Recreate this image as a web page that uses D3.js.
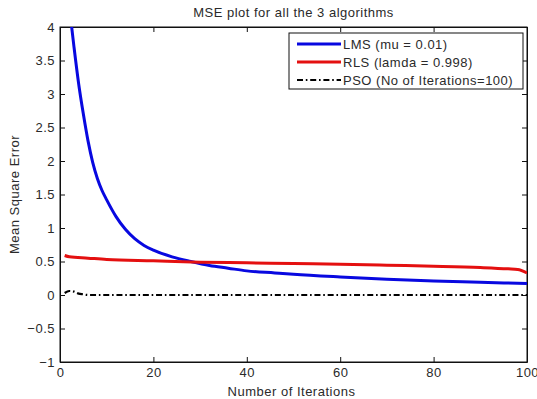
<!DOCTYPE html>
<html>
<head>
<meta charset="utf-8">
<script src="https://cdn.jsdelivr.net/npm/d3@7"></script>
<style>
body { margin: 0; background: #fff; }
svg text { font-family: "Liberation Sans", Arial, sans-serif; fill: #2a2a2a; letter-spacing: 0.5px; }
</style>
</head>
<body>
<div id="chart"></div>
<script>
// values
var lmsIter = [1, 2, 3, 4, 5, 6, 7, 8, 9, 10, 12, 14, 16, 18, 20, 24, 28, 32, 36, 40, 46, 50, 60, 70, 80, 90, 100];
var lmsMse  = [4.9, 4.3, 3.7, 3.15, 2.7, 2.3, 1.98, 1.74, 1.56, 1.42, 1.17, 0.98, 0.84, 0.74, 0.67, 0.57, 0.5, 0.44, 0.4, 0.36, 0.33, 0.31, 0.27, 0.235, 0.21, 0.19, 0.17];
var rlsIter = [1, 2, 6, 10, 20, 30, 40, 50, 60, 70, 80, 90, 96, 98, 100];
var rlsMse  = [0.59, 0.57, 0.55, 0.53, 0.51, 0.49, 0.48, 0.47, 0.46, 0.445, 0.43, 0.41, 0.39, 0.38, 0.33];
var psoIter = [1, 2, 3, 4, 5, 6, 100];
var psoMse  = [0.03, 0.06, 0.05, 0.02, 0.01, 0, 0];
var xTicks = [0, 20, 40, 60, 80, 100];
var yTicks = [-1, -0.5, 0, 0.5, 1, 1.5, 2, 2.5, 3, 3.5, 4];
var legendLabels = ["LMS (mu = 0.01)", "RLS (lamda = 0.998)", "PSO (No of Iterations=100)"];

var width = 537, height = 399;
var margin = {top: 27, right: 10, bottom: 37, left: 60};
var w = width - margin.left - margin.right,
    h = height - margin.top - margin.bottom;

var svg = d3.select("#chart").append("svg")
    .attr("width", width)
    .attr("height", height);

var x = d3.scaleLinear().domain([0, 100]).range([0, w]);
var y = d3.scaleLinear().domain([-1, 4]).range([h, 0]);

var g = svg.append("g").attr("transform", "translate(" + margin.left + "," + margin.top + ")");

g.append("clipPath").attr("id", "clip")
  .append("rect").attr("width", w).attr("height", h);

// axes, ticks pointing inward like matlab
var tickLen = 5;
g.append("g").attr("transform", "translate(0," + h + ")")
    .call(d3.axisBottom(x).tickValues(xTicks).tickSizeInner(-tickLen).tickSizeOuter(0).tickPadding(6));
g.append("g")
    .call(d3.axisTop(x).tickValues(xTicks).tickSizeInner(-tickLen).tickSizeOuter(0).tickFormat(""));
g.append("g")
    .call(d3.axisLeft(y).tickValues(yTicks).tickSizeInner(-tickLen).tickSizeOuter(0).tickPadding(5)
      .tickFormat(function(d) { return d3.format("")(d); }));
g.append("g").attr("transform", "translate(" + w + ",0)")
    .call(d3.axisRight(y).tickValues(yTicks).tickSizeInner(-tickLen).tickSizeOuter(0).tickFormat(""));

g.selectAll(".domain").attr("stroke", "#111");
g.selectAll(".tick line").attr("stroke", "#111");
g.selectAll(".tick text").style("font-size", "13px").attr("fill", "#333");
g.append("rect").attr("width", w).attr("height", h)
    .attr("fill", "none").attr("stroke", "#111");

var line = d3.line()
    .x(function(d) { return x(d[0]); })
    .y(function(d) { return y(d[1]); })
    .curve(d3.curveMonotoneX);

var series = [
  {iter: lmsIter, mse: lmsMse, color: "#0808e0", width: 3, dash: null},
  {iter: rlsIter, mse: rlsMse, color: "#e41010", width: 3, dash: null},
  {iter: psoIter, mse: psoMse, color: "#000", width: 2.2, dash: "6,2.8,1.6,2.8"}
];

var plot = g.append("g").attr("clip-path", "url(#clip)");
series.forEach(function(s) {
  plot.append("path")
      .datum(d3.zip(s.iter, s.mse))
      .attr("d", line)
      .attr("fill", "none")
      .attr("stroke", s.color)
      .attr("stroke-width", s.width)
      .attr("stroke-dasharray", s.dash);
});

// legend
var lg = svg.append("g").attr("transform", "translate(289,33)");
lg.append("rect").attr("width", 234).attr("height", 56)
    .attr("fill", "#fff").attr("stroke", "#111");
series.forEach(function(s, i) {
  var yy = 11 + i * 18;
  lg.append("line").attr("x1", 8).attr("x2", 52).attr("y1", yy).attr("y2", yy)
      .attr("stroke", s.color).attr("stroke-width", s.width).attr("stroke-dasharray", s.dash);
  lg.append("text").attr("x", 54).attr("y", yy).attr("dy", "0.35em")
      .style("font-size", "13px").text(legendLabels[i]);
});

// titles
svg.append("text").attr("x", margin.left + w / 2).attr("y", 17)
    .attr("text-anchor", "middle").style("font-size", "13px")
    .text("MSE plot for all the 3 algorithms");
svg.append("text").attr("x", margin.left + w / 2 - 2).attr("y", 396)
    .attr("text-anchor", "middle").style("font-size", "13px")
    .text("Number of Iterations");
svg.append("text")
    .attr("transform", "translate(19," + (margin.top + h / 2) + ") rotate(-90)")
    .attr("text-anchor", "middle").style("font-size", "13px")
    .text("Mean Square Error");
</script>
</body>
</html>
